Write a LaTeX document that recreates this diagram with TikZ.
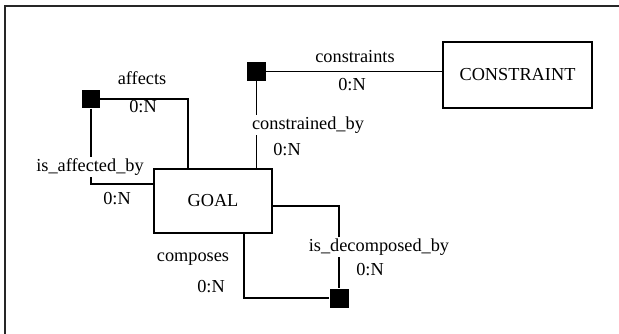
\documentclass[tikz,border=0pt]{standalone}
\usepackage{fontspec}
\setmainfont{Liberation Serif}
\begin{document}
\begin{tikzpicture}[x=1pt,y=-1pt,
  entity/.style={draw,line width=2pt,minimum width=118pt,minimum height=64pt,inner sep=0pt,font=\fontsize{18.3}{21}\selectfont},
  rel/.style={fill=black,minimum size=19pt,inner sep=0pt},
  conn/.style={line width=2pt},
  lbl/.style={font=\fontsize{18.3}{21}\selectfont,inner sep=1pt},
  lblw/.style={lbl,fill=white,inner sep=2pt}]
\useasboundingbox (0,0) rectangle (619,334);
\draw[line width=2pt,black!85] (5,345) -- (5,6) -- (630,6);
\node[entity] (goal) at (213,201) {GOAL};
\node[entity,minimum width=149pt,minimum height=66pt] (constraint) at (517.5,75) {CONSTRAINT};
\node[rel,minimum size=18pt] (sqA) at (91,99.5) {};
\node[rel] (sqC) at (256.5,71.5) {};
\node[rel] (sqD) at (339,298) {};
% affects / is_affected_by
\draw[conn] (sqA.east) -| ([xshift=-25pt]goal.north);
\draw[conn] (sqA.south) |- ([yshift=17pt]goal.west);
% constraints / constrained_by
\draw[conn,line width=1.6pt] (sqC.east) -- (sqC.east -| constraint.west);
\draw[conn,line width=1.6pt] (sqC.south) -- (sqC.south |- goal.north);
% composes / is_decomposed_by
\draw[conn] ([yshift=-5pt]goal.east) -| (sqD.north);
\draw[conn] ([xshift=31pt]goal.south) |- (sqD.west);
% labels
\node[lbl] (l1) at (142,78) {affects};
\node[lbl] (l2) at (143,107) {0:N};
\node[lblw] (l3) at (90,167) {is\_affected\_by};
\node[lbl] (l4) at (117,199) {0:N};
\node[lbl] (l5) at (355,57) {constraints};
\node[lbl] (l6) at (352,85) {0:N};
\node[lblw] (l7) at (308,125) {constrained\_by};
\node[lbl] (l8) at (287,150) {0:N};
\node[lblw] (l9) at (379,247) {is\_decomposed\_by};
\node[lbl] (l10) at (370,270) {0:N};
\node[lbl] (l11) at (193,259) {composes};
\node[lbl] (l12) at (211,287) {0:N};
\end{tikzpicture}
\end{document}
